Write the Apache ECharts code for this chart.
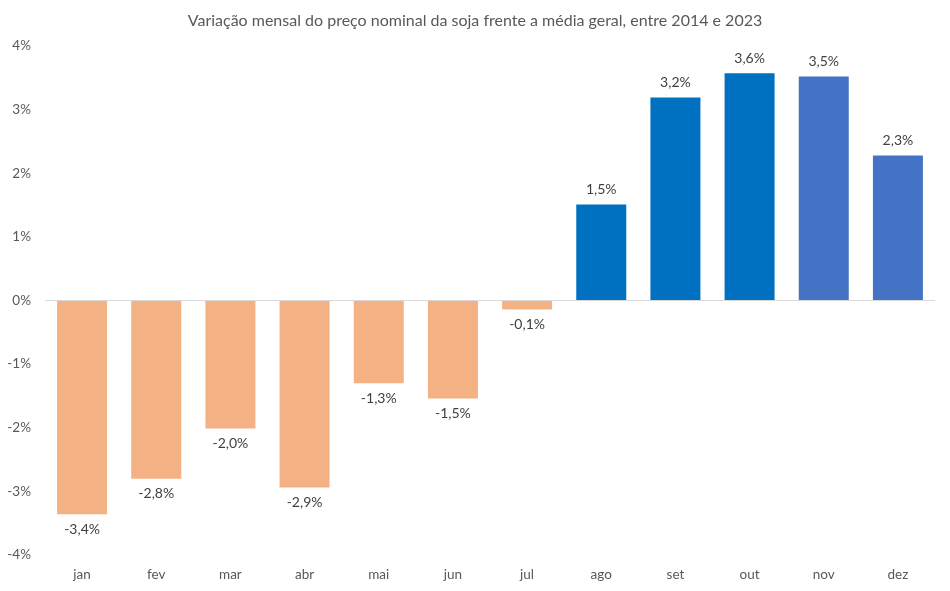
<!DOCTYPE html>
<html><head><meta charset="utf-8">
<script src="https://cdn.jsdelivr.net/npm/echarts@6/dist/echarts.min.js"></script>
<style>html,body{margin:0;padding:0;background:#fff}#c{width:950px;height:591px}</style>
</head><body><div id="c"></div>
<script>
const categories = ['jan','fev','mar','abr','mai','jun','jul','ago','set','out','nov','dez'];
const values = [-3.36, -2.80, -2.01, -2.94, -1.30, -1.54, -0.14, 1.51, 3.19, 3.57, 3.52, 2.28];
const yTicks = [-4, -3, -2, -1, 0, 1, 2, 3, 4];
const titleText = 'Variação mensal do preço nominal da soja frente a média geral, entre 2014 e 2023';

const font = 'Lato, "Open Sans", sans-serif';
function colorFor(i, v) {
  if (v < 0) return '#F4B183';
  if (i >= 10) return '#4472C4';
  return '#0070C0';
}
const chart = echarts.init(document.getElementById('c'));
chart.setOption({
  animation: false,
  title: { text: titleText, left: 'center', top: 8,
    textStyle: { fontFamily: font, fontSize: 16, fontWeight: 'normal', color: '#595959' } },
  grid: { left: 45, right: 15, top: 46, bottom: 36 },
  xAxis: { type: 'category', data: categories, position: 'bottom',
    axisLine: { show: false }, axisTick: { show: false },
    axisLabel: { fontFamily: font, fontSize: 13.5, color: '#595959', margin: 13 } },
  yAxis: { type: 'value', min: yTicks[0], max: yTicks[yTicks.length-1], interval: 1,
    splitLine: { show: false }, axisLine: { show: false }, axisTick: { show: false },
    axisLabel: { fontFamily: font, fontSize: 13.5, color: '#595959', margin: 14,
      formatter: v => v + '%' } },
  series: [{
    type: 'bar', barWidth: 50,
    data: values.map((v, i) => ({
      value: v,
      itemStyle: { color: colorFor(i, v) },
      label: { show: true, position: v < 0 ? 'bottom' : 'top', distance: 8,
        fontFamily: font, fontSize: 14, color: '#404040',
        formatter: p => p.value.toFixed(1).replace('.', ',') + '%' }
    })),
    markLine: { silent: true, symbol: 'none', label: { show: false },
      lineStyle: { color: '#D9D9D9', width: 1, type: 'solid' },
      data: [{ yAxis: 0 }] }
  }]
});
</script></body></html>
